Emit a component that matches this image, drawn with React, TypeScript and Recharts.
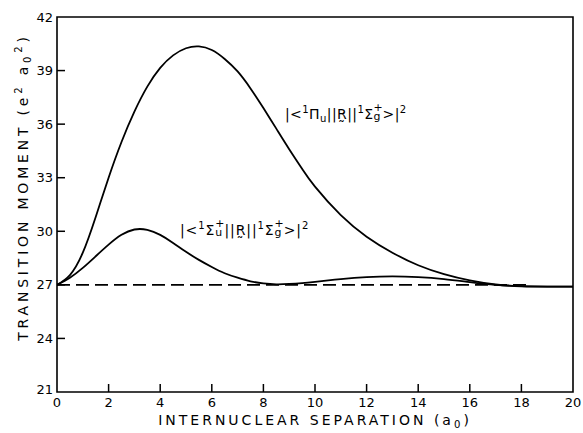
import React from 'react';
import { LineChart, Line, XAxis, YAxis, ReferenceArea } from 'recharts';

// internuclear separation (a0)
const separation = [0, 0.5, 1, 1.5, 2, 2.5, 3, 3.5, 4, 4.5, 5, 5.5, 6, 6.5, 7, 7.5, 8, 8.5, 9, 9.5, 10, 11, 12, 13, 14, 15, 16, 17, 18, 19, 20];
// |<1Pi_u||R||1Sigma_g+>|^2
const piU = [27.0, 27.55, 28.8, 30.8, 33.0, 35.0, 36.7, 38.1, 39.15, 39.85, 40.25, 40.35, 40.15, 39.65, 38.95, 38.0, 36.9, 35.75, 34.6, 33.5, 32.5, 30.9, 29.7, 28.8, 28.1, 27.6, 27.25, 27.02, 26.92, 26.9, 26.9];
// |<1Sigma_u+||R||1Sigma_g+>|^2
const sigmaU = [27.0, 27.4, 27.95, 28.6, 29.25, 29.8, 30.1, 30.08, 29.8, 29.35, 28.85, 28.4, 28.0, 27.65, 27.4, 27.2, 27.08, 27.03, 27.05, 27.1, 27.17, 27.32, 27.43, 27.47, 27.43, 27.32, 27.15, 27.0, 26.93, 26.9, 26.9];
// dashed reference level
const baselineX = [0, 18.2];
const baselineValue = 27;

const xTicks = [0, 2, 4, 6, 8, 10, 12, 14, 16, 18, 20];
const yTicks = [21, 24, 27, 30, 33, 36, 39, 42];

const data = separation.map((r, i) => ({ r, pi: piU[i], sigma: sigmaU[i] }));
const dashed = baselineX.map((r) => ({ r, base: baselineValue }));

const W = 583;
const H = 433;
const LEFT = 57;
const RIGHT = 573;
const TOP = 17;
const BOTTOM = 392;
const FONT = '"DejaVu Sans", sans-serif';

function XTick({ x, payload }: any) {
  const edge = payload.value === 0 || payload.value === 20;
  return (
    <g>
      {!edge && <line x1={x} x2={x} y1={BOTTOM} y2={BOTTOM - 8} stroke="#000" strokeWidth={1.5} />}
      <text x={x} y={402} textAnchor="middle" dominantBaseline="central" fontSize={13} fontFamily={FONT} fill="#000">
        {payload.value}
      </text>
    </g>
  );
}

function YTick({ y, payload }: any) {
  const edge = payload.value === 21 || payload.value === 42;
  return (
    <g>
      {!edge && <line x1={LEFT} x2={LEFT + 8} y1={y} y2={y} stroke="#000" strokeWidth={1.5} />}
      <text x={53} y={payload.value === 21 ? y - 3 : y} textAnchor="end" dominantBaseline="central" fontSize={13} fontFamily={FONT} fill="#000">
        {payload.value}
      </text>
    </g>
  );
}

const sup = (s: string) => <span style={{ fontSize: '0.72em', position: 'relative', top: '-0.55em' }}>{s}</span>;
const sub = (s: string) => <span style={{ fontSize: '0.72em', position: 'relative', top: '0.3em' }}>{s}</span>;
const stack = (up: string, down: string) => (
  <span style={{ display: 'inline-block', position: 'relative', width: '0.65em', height: '1em' }}>
    <span style={{ position: 'absolute', left: 0, top: '-0.35em', fontSize: '0.78em' }}>{up}</span>
    <span style={{ position: 'absolute', left: 0, top: '0.45em', fontSize: '0.78em' }}>{down}</span>
  </span>
);
const R = 'R\u0330';

const labelStyle: React.CSSProperties = {
  position: 'absolute',
  fontFamily: FONT,
  fontSize: 14,
  lineHeight: '14px',
  whiteSpace: 'nowrap',
  color: '#000',
};

export default function App() {
  return (
    <div style={{ position: 'absolute', left: 0, top: 0, width: W, height: H, background: '#fff' }}>
      <LineChart width={W} height={H} data={data} margin={{ top: TOP, right: W - RIGHT, bottom: 0, left: 0 }}>
        <ReferenceArea x1={0} x2={20} y1={21} y2={42} fill="none" stroke="#000" strokeWidth={1.6} />
        <XAxis
          dataKey="r"
          type="number"
          domain={[0, 20]}
          ticks={xTicks}
          axisLine={false}
          tickLine={false}
          height={H - BOTTOM}
          tick={<XTick />}
          allowDataOverflow
        />
        <YAxis
          type="number"
          domain={[21, 42]}
          ticks={yTicks}
          axisLine={false}
          tickLine={false}
          width={LEFT}
          tick={<YTick />}
          allowDataOverflow
        />
        <Line data={dashed} dataKey="base" stroke="#000" strokeWidth={1.6} strokeDasharray="13 6" dot={false} isAnimationActive={false} />
        <Line dataKey="pi" type="natural" stroke="#000" strokeWidth={1.8} dot={false} isAnimationActive={false} />
        <Line dataKey="sigma" type="natural" stroke="#000" strokeWidth={1.8} dot={false} isAnimationActive={false} />
      </LineChart>

      <div style={{ ...labelStyle, left: 285, top: 105, letterSpacing: 0.4 }}>
        |&lt;{sup('1')}Π{sub('u')}||{R}||{sup('1')}Σ{stack('+', 'g')}&gt;|{sup('2')}
      </div>
      <div style={{ ...labelStyle, left: 180, top: 221, letterSpacing: 0.9 }}>
        |&lt;{sup('1')}Σ{stack('+', 'u')}||{R}||{sup('1')}Σ{stack('+', 'g')}&gt;|{sup('2')}
      </div>

      <div
        style={{
          position: 'absolute',
          left: 23,
          top: 187,
          transform: 'translate(-50%, -50%) rotate(-90deg)',
          fontFamily: FONT,
          fontSize: 14,
          letterSpacing: 3.8,
          whiteSpace: 'nowrap',
          color: '#000',
        }}
      >
        TRANSITION MOMENT (e{sup('2')} a{sub('0')}{sup('2')})
      </div>
      <div
        style={{
          position: 'absolute',
          left: (LEFT + RIGHT) / 2,
          top: 420,
          transform: 'translate(-50%, -50%)',
          fontFamily: FONT,
          fontSize: 14,
          letterSpacing: 3,
          whiteSpace: 'nowrap',
          color: '#000',
        }}
      >
        INTERNUCLEAR SEPARATION (a{sub('0')})
      </div>
    </div>
  );
}
